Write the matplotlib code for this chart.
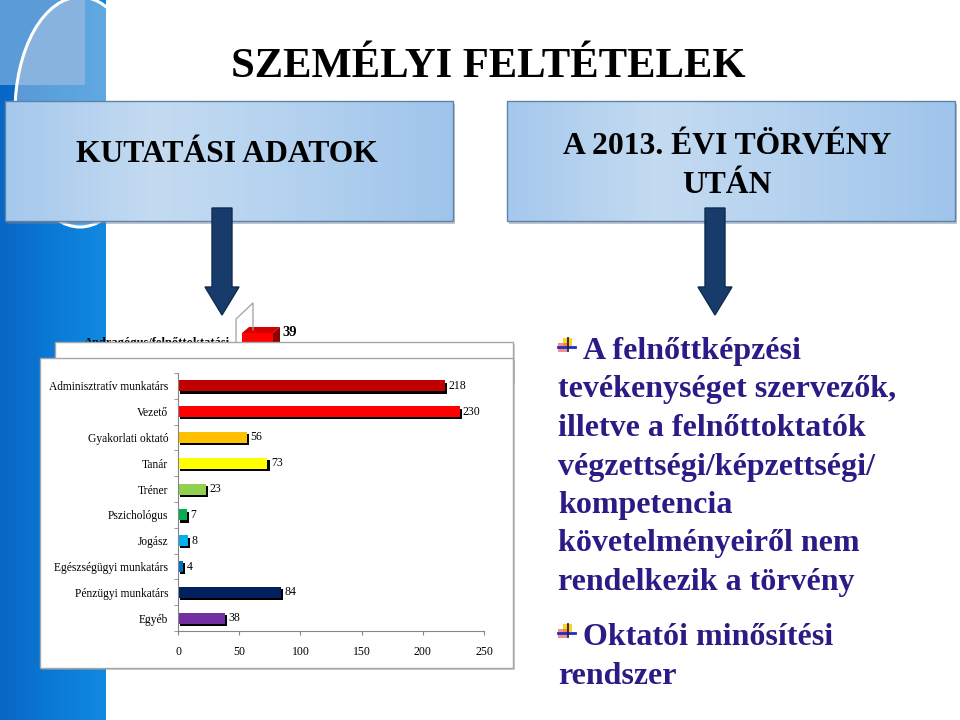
import matplotlib
matplotlib.use('Agg')
import matplotlib.pyplot as plt
import matplotlib.patches as mpatches
import matplotlib.patheffects as pe
from matplotlib.colors import LinearSegmentedColormap
from matplotlib.path import Path
import numpy as np

plt.rcParams['font.family'] = ['Liberation Serif', 'DejaVu Serif']

# slide texts
title = 'SZEMÉLYI FELTÉTELEK'
left_box_text = 'KUTATÁSI ADATOK'
right_box_lines = ['A 2013. ÉVI TÖRVÉNY', 'UTÁN']
bullet1_lines = ['A felnőttképzési', 'tevékenységet szervezők,',
                 'illetve a felnőttoktatók', 'végzettségi/képzettségi/',
                 'kompetencia', 'követelményeiről nem', 'rendelkezik a törvény']
bullet2_lines = ['Oktatói minősítési', 'rendszer']

# bar chart data (top to bottom)
categories = ['Adminisztratív munkatárs', 'Vezető', 'Gyakorlati oktató', 'Tanár',
              'Tréner', 'Pszichológus', 'Jogász', 'Egészségügyi munkatárs',
              'Pénzügyi munkatárs', 'Egyéb']
values = [218, 230, 56, 73, 23, 7, 8, 4, 84, 38]
bar_colors = ['#c00000', '#ff0000', '#ffc000', '#ffff00', '#92d050',
              '#00b050', '#00b0f0', '#0070c0', '#002060', '#7030a0']
x_ticks = [0, 50, 100, 150, 200, 250]

# chart lying behind, mostly covered
hidden_category = 'Andragógus/felnőttoktatási'
hidden_value = 39

W, H = 960, 720
fig = plt.figure(figsize=(9.6, 7.2), dpi=100)


def px_axes(x0, y0, x1, y1):
    # axes placed by a pixel box, origin top-left
    return fig.add_axes([x0 / W, 1 - y1 / H, (x1 - x0) / W, (y1 - y0) / H])


def pixel_frame(a, z):
    a.set_zorder(z)
    a.axis('off')
    a.patch.set_visible(False)
    a.set_xlim(0, W)
    a.set_ylim(H, 0)


grad = np.linspace(0, 1, 256).reshape(1, -1)

# ---------- blue strip on the left ----------
deco = px_axes(0, 0, W, H)
pixel_frame(deco, -1)
strip_cmap = LinearSegmentedColormap.from_list('strip', ['#0866c4', '#0a7ad6', '#1289e0'])
deco.imshow(grad, cmap=strip_cmap, extent=(0, 106, H, 0), aspect='auto', zorder=0)
deco.add_patch(mpatches.Rectangle((0, 0), 85, 85, fc='#5b9bd8', ec='none', zorder=1))
# ring only shows on the strip, above and below the left box
mv, ln, cl = Path.MOVETO, Path.LINETO, Path.CLOSEPOLY
clip_verts = [(0, 0), (106, 0), (106, 101), (0, 101), (0, 0),
              (0, 221), (106, 221), (106, H), (0, H), (0, 221)]
clip_codes = [mv, ln, ln, ln, cl] * 2
strip_clip = mpatches.PathPatch(Path(clip_verts, clip_codes), transform=deco.transData)
ring = mpatches.Ellipse((80, 112), 130, 230, fc=(0.75, 0.82, 0.9, 0.45), ec='white', lw=2.2, zorder=2)
deco.add_patch(ring)
ring.set_clip_path(strip_clip)
deco.set_xlim(0, W)
deco.set_ylim(H, 0)

# ---------- header boxes, title, arrows, bullets ----------
bg = px_axes(0, 0, W, H)
pixel_frame(bg, 0)
box_cmap = LinearSegmentedColormap.from_list('box', ['#a5c8ed', '#c4dbf1', '#b3d1ef', '#9fc4eb'])
for x0, x1 in [(5, 453), (507, 955)]:
    bg.add_patch(mpatches.Rectangle((x0 + 2, 104), x1 - x0, 120, fc='#6f8094', alpha=0.45,
                                    ec='none', zorder=3))
    bg.imshow(grad, cmap=box_cmap, extent=(x0, x1, 221, 101), aspect='auto', zorder=4)
    bg.add_patch(mpatches.Rectangle((x0, 101), x1 - x0, 120, fill=False, ec='#5f82a8',
                                    lw=1, zorder=5))

bg.text(488, 77, title, ha='center', va='baseline', fontsize=30.7,
        fontweight='bold', zorder=6)
bg.text(227, 162, left_box_text, ha='center', va='baseline', fontsize=22.8,
        fontweight='bold', zorder=6)
for i, line in enumerate(right_box_lines):
    bg.text(727, 154 + i * 39, line, ha='center', va='baseline', fontsize=22.8,
            fontweight='bold', zorder=6)

# arrows
for cx in [222, 715]:
    pts = [(cx - 10, 208), (cx + 10, 208), (cx + 10, 287), (cx + 17, 287),
           (cx, 315), (cx - 17, 287), (cx - 10, 287)]
    bg.add_patch(mpatches.Polygon(pts, closed=True, fc='#173c6b', ec='#0e2b50', lw=1, zorder=7))

# right hand bullet text
text_color = '#2b1b86'


def bullet_icon(y):
    bg.add_patch(mpatches.Rectangle((563, y - 21), 9, 8, fc='#ffd21e', ec='none', zorder=6))
    bg.add_patch(mpatches.Rectangle((558, y - 16), 9, 9, fc='#f06060', ec='none', alpha=0.7, zorder=6))
    bg.plot([558, 575], [y - 12, y - 12], color='#2030c0', lw=2, zorder=7)
    bg.plot([568, 568], [y - 21, y - 8], color='#202050', lw=1.3, zorder=7)


line_step = 38.5
for i, line in enumerate(bullet1_lines):
    x = 583 if i == 0 else 558
    bg.text(x, 359 + i * line_step, line, ha='left', va='baseline', fontsize=23,
            fontweight='bold', color=text_color, zorder=6)
bullet_icon(359)
for i, line in enumerate(bullet2_lines):
    x = 583 if i == 0 else 558
    bg.text(x, 645 + i * line_step, line, ha='left', va='baseline', fontsize=23,
            fontweight='bold', color=text_color, zorder=6)
bullet_icon(645)

bg.text(230, 346, hidden_category, ha='right', va='baseline', fontsize=9,
        fontweight='bold', zorder=6)
bg.set_xlim(0, W)
bg.set_ylim(H, 0)

# ---------- remnant of the 3D chart behind ----------
hidden_scale = 0.795  # px per unit
ax3 = px_axes(226, 295, 330, 345)
ax3.set_zorder(1)
ax3.axis('off')
ax3.patch.set_visible(False)
ax3.set_xlim((226 - 242) / hidden_scale, (330 - 242) / hidden_scale)
ax3.set_ylim(345, 295)
dx = 7 / hidden_scale
ax3.plot([-7.5, -7.5, 13.8, 13.8], [345, 319, 303, 330], color='#a0a0a0', lw=0.9)
ax3.barh(339, hidden_value, height=12, color='#ff0000')
ax3.add_patch(mpatches.Polygon([(0, 333), (hidden_value, 333), (hidden_value + dx, 327), (dx, 327)],
                               fc='#d40000', ec='none'))
ax3.add_patch(mpatches.Polygon([(hidden_value, 333), (hidden_value + dx, 327),
                                (hidden_value + dx, 345), (hidden_value, 345)],
                               fc='#8c0000', ec='none'))
ax3.text(hidden_value + dx + 3, 333, str(hidden_value), ha='left', va='center',
         fontsize=10.5, fontweight='bold')

# ---------- white chart panels ----------
ov = px_axes(0, 0, W, H)
pixel_frame(ov, 2)
ov.add_patch(mpatches.Rectangle((57, 344), 458, 40, fc='#b0b0b0', ec='none', alpha=0.5))
ov.add_patch(mpatches.Rectangle((55, 342), 458, 40, fc='white', ec='#a6a6a6', lw=1))
ov.add_patch(mpatches.Rectangle((42, 360), 473, 310, fc='#9a9a9a', ec='none', alpha=0.5))
ov.add_patch(mpatches.Rectangle((40, 358), 473, 310, fc='white', ec='#a6a6a6', lw=1))

# ---------- bar chart ----------
ax = px_axes(178, 373, 484, 631)
ax.set_zorder(3)
ax.patch.set_visible(False)
ypos = np.arange(len(categories))
shadow = [pe.SimplePatchShadow(offset=(1.6, -1.6), shadow_rgbFace='black', alpha=1.0), pe.Normal()]
bars = ax.barh(ypos, values, height=0.42, color=bar_colors)
for b in bars:
    b.set_path_effects(shadow)
for y, v in zip(ypos, values):
    ax.annotate(str(v), (v, y), xytext=(2.5, 0), textcoords='offset points',
                ha='left', va='center', fontsize=8.5)

ax.set_xlim(0, 250)
ax.set_ylim(len(categories) - 0.5, -0.5)
ax.set_xticks(x_ticks)
ax.set_yticks(ypos)
ax.set_yticklabels(categories)
ax.set_yticks(np.arange(-0.5, len(categories), 1), minor=True)
ax.tick_params(axis='y', which='major', length=0, pad=7, labelsize=8.3)
ax.tick_params(axis='y', which='minor', length=3, color='#868686')
ax.tick_params(axis='x', length=3, color='#868686', pad=8, labelsize=8.5)
for side in ['top', 'right']:
    ax.spines[side].set_visible(False)
for side in ['left', 'bottom']:
    ax.spines[side].set_color('#868686')
    ax.spines[side].set_linewidth(0.8)

fig.savefig('out.png', dpi=100)
